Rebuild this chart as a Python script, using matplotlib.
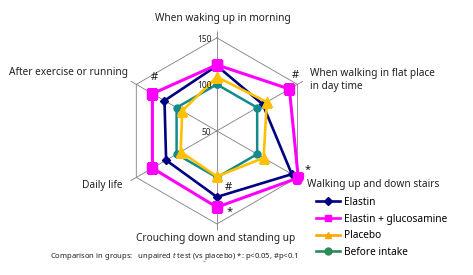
import numpy as np
import matplotlib
matplotlib.use("Agg")
import matplotlib.pyplot as plt
from matplotlib.lines import Line2D

plt.rcParams['font.family'] = ['Noto Sans', 'DejaVu Sans']
plt.rcParams['mathtext.fontset'] = 'custom'
plt.rcParams['mathtext.rm'] = 'Noto Sans'
plt.rcParams['mathtext.it'] = 'Noto Sans:italic'

# data
categories = ["When waking up in morning",
              "When walking in flat place\nin day time",
              "Walking up and down stairs",
              "Crouching down and standing up",
              "Daily life",
              "After exercise or running"]
elastin = [120, 107, 143, 121, 113, 115]
elastin_gluc = [121, 140, 151, 132, 130, 130]
placebo = [108, 112, 108, 99, 95, 93]
before = [100, 100, 100, 100, 100, 100]
ring_values = [50, 100, 150]

n = len(categories)
angles = np.arange(n) * 2 * np.pi / n
closed = np.append(angles, angles[0])

def close(v):
    return list(v) + [v[0]]

fig = plt.figure(figsize=(4.73, 2.75), dpi=100)
ax = fig.add_axes([0.248, 0.162, 0.421, 0.724], projection='polar')
ax.set_theta_offset(np.pi / 2)
ax.set_theta_direction(-1)
ax.set_ylim(50, 157)
ax.grid(False)
ax.set_xticks([])
ax.set_yticks([])
ax.spines['polar'].set_visible(False)
ax.patch.set_alpha(0)

grid_col = '#7f7f7f'
for v in ring_values[1:]:
    ax.plot(closed, [v] * (n + 1), color=grid_col, lw=0.6, zorder=1)
for a in angles:
    ax.plot([a, a], [50, 157], color=grid_col, lw=0.6, zorder=1)

# radial tick labels on the top spoke
for v in ring_values:
    ax.annotate(str(v), xy=(0, v), xytext=(-4, -1), textcoords='offset points',
                ha='right', va='center', fontsize=6, color='#222222', zorder=10)

ax.plot(closed, close(elastin), color='#000080', lw=1.9, marker='D', ms=4.5, zorder=3)
ax.plot(closed, close(elastin_gluc), color='#ff00ff', lw=2.2, marker='s', ms=6.5, zorder=4)
ax.plot(closed, close(before), color='#138b8b', lw=1.8, marker='o', ms=5, zorder=5)
ax.plot(closed, close(placebo), color='#ffc000', lw=1.9, marker='^', ms=7, zorder=6)

# category labels
label_pos = [((4, 9.5), 'center', 'center'),
             ((5, 0.5), 'left', 'center'),
             ((3, -3), 'left', 'center'),
             ((-1, -6), 'center', 'center'),
             ((-6, -3.5), 'right', 'center'),
             ((-2, 6), 'right', 'center')]
for a, name, (off, ha, va) in zip(angles, categories, label_pos):
    ax.annotate(name, xy=(a, 157), xytext=off, textcoords='offset points',
                ha=ha, va=va, fontsize=7.3, color='#222222', linespacing=1.25,
                annotation_clip=False)

# significance marks
marks = [(angles[5], elastin_gluc[5], '#', (1.5, 11.5)),
         (angles[1], elastin_gluc[1], '#', (4, 10)),
         (angles[2], elastin_gluc[2], '*', (7, 6)),
         (angles[3], elastin[3], '#', (8, 7)),
         (angles[3], elastin_gluc[3], '*', (9, -3))]
for a, v, s, off in marks:
    ax.annotate(s, xy=(a, v), xytext=off, textcoords='offset points',
                ha='center', va='center', fontsize=8, fontweight='bold',
                color='#111111', annotation_clip=False)

handles = [Line2D([], [], color='#000080', lw=1.9, marker='D', ms=4),
           Line2D([], [], color='#ff00ff', lw=1.9, marker='s', ms=5),
           Line2D([], [], color='#ffa500', lw=1.9, marker='^', ms=5),
           Line2D([], [], color='#2e8b57', lw=1.9, marker='o', ms=5)]
names = ["Elastin", "Elastin + glucosamine", "Placebo", "Before intake"]
fig.legend(handles, names, loc='upper left', bbox_to_anchor=(316 / 473, 1 - 197 / 275),
           frameon=False, fontsize=7.3, handlelength=2.4, handletextpad=0.4,
           borderpad=0, borderaxespad=0, labelspacing=0.55)

fig.text(50 / 473, 1 - 257 / 275,
         r"Comparison in groups:   unpaired $\it{t}$ test (vs placebo) *: p<0.05, #p<0.1",
         fontsize=5.5, ha='left', va='center', color='#222222')
fig.text(204 / 473, 1 - 265 / 275, "ˇ", fontsize=5, ha='center', va='center', color='#444444')

fig.savefig("out.png", dpi=100)
